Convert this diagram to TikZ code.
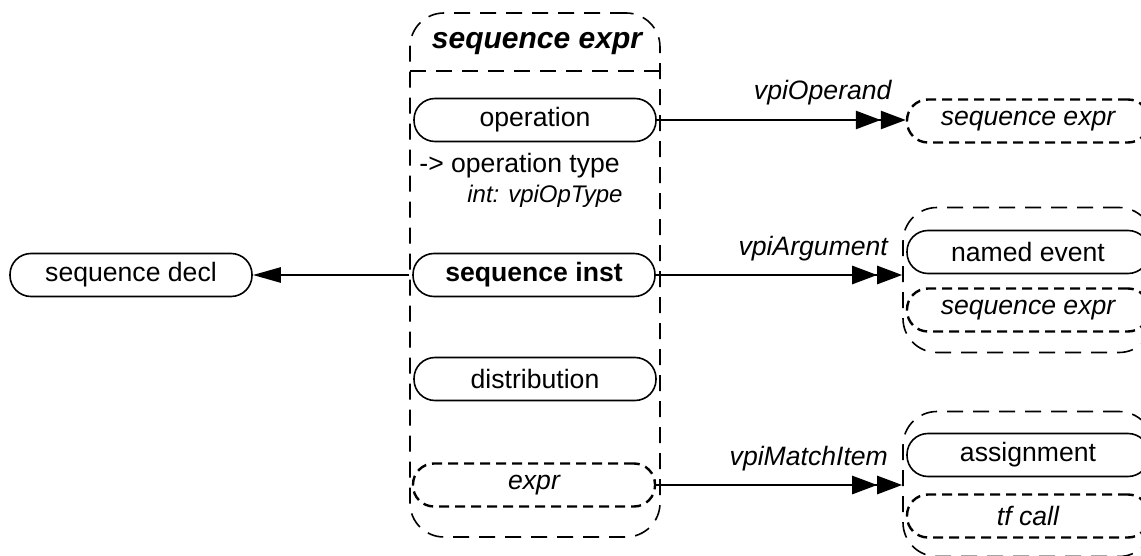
\documentclass[tikz,border=0pt]{standalone}
\usepackage{fontspec}
\setmainfont{Liberation Sans}
\usepackage{tikz}
\usetikzlibrary{
  positioning,
  arrows.meta
}
\tikzset{
  objnode/.style={
    draw, line width=0.8pt, rounded corners=10.5pt,
    minimum width=121pt, minimum height=21.5pt, inner sep=0pt,
    font=\fontsize{13.3}{16}\selectfont, align=center
  },
  refnode/.style={
    objnode, line width=1.2pt, dash pattern=on 5pt off 3pt,
    font=\fontsize{13.3}{16}\selectfont\itshape
  },
  groupbox/.style={
    draw, line width=0.8pt, dash pattern=on 8pt off 5pt,
    rounded corners=17pt, inner sep=0pt
  },
  relarrow/.style={
    line width=1.3pt,
    -{Triangle[length=12.5pt,width=9pt,sep=0pt]Triangle[length=12.5pt,width=9pt]}
  },
  declarrow/.style={
    line width=1.3pt, -{Triangle[length=14pt,width=7.5pt]}
  },
  rellabel/.style={
    anchor=base east, inner sep=0pt, xshift=-6.5pt, yshift=10pt,
    font=\fontsize{13.3}{16}\selectfont\itshape
  }
}
\begin{document}
\begin{tikzpicture}[x=0.5pt, y=-0.5pt]
  \useasboundingbox (0,0) rectangle (1141,556);

  % class box: sequence expr
  \node[groupbox, minimum width=125pt, minimum height=262pt] (seqexpr) at (535,275) {};
  \node[font=\fontsize{15}{18}\selectfont\bfseries\itshape] (hdr) at (537,44) {sequence expr};
  \draw[line width=0.9pt, dash pattern=on 8pt off 5pt] (410,71) -- (660,71);

  \node[objnode] (operation) at (535,120) {operation};
  \node[anchor=west, inner sep=0pt, font=\fontsize{13.3}{16}\selectfont] (optype) at (419,166) {-> operation type};
  \node[anchor=west, inner sep=0pt, font=\fontsize{12}{14}\selectfont\itshape] (optypeprop) at (467,196) {int: vpiOpType};
  \node[objnode, font=\fontsize{13.3}{16}\selectfont\bfseries] (seqinst) at (534,275) {sequence inst};
  \node[objnode] (distribution) at (535,379) {distribution};
  \node[refnode] (expr) at (534,485) {expr};

  % left: sequence decl
  \node[objnode] (seqdecl) at (131,275) {sequence decl};

  % right: targets
  \node[refnode] (opnd) at (1028,121) {sequence expr};

  \node[groupbox, minimum width=125pt, minimum height=72.5pt] (argbox) at (1028,280) {};
  \node[objnode] (namedevent) at (1028,252) {named event};
  \node[refnode] (argexpr) at (1028,310) {sequence expr};

  \node[groupbox, minimum width=125pt, minimum height=72.5pt] (matchbox) at (1028,484) {};
  \node[objnode] (assignment) at (1028,455) {assignment};
  \node[refnode] (tfcall) at (1028,516) {tf call};

  % relations
  \draw[declarrow] (seqexpr.west) -- (seqdecl.east);
  \draw[relarrow] (operation.east) -- (operation.east -| opnd.west) node[rellabel, pos=1] {vpiOperand};
  \draw[relarrow] (seqinst.east) -- (seqinst.east -| argbox.west) node[rellabel, pos=1] {vpiArgument};
  \draw[relarrow] (expr.east) -- (expr.east -| matchbox.west) node[rellabel, pos=1] {vpiMatchItem};

\end{tikzpicture}
\end{document}
